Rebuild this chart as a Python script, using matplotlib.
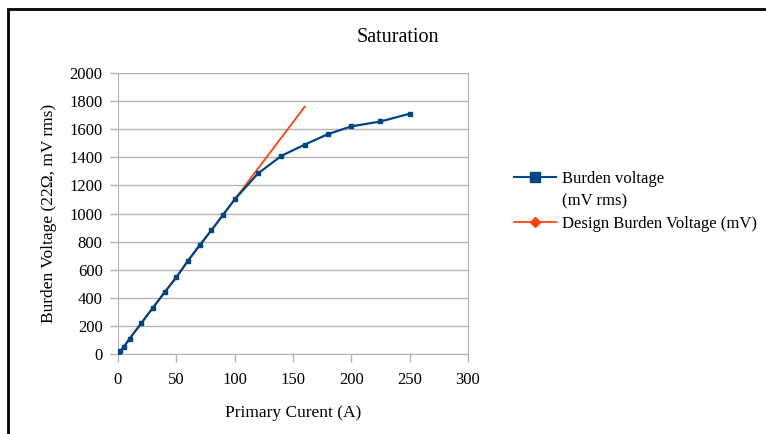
import matplotlib.pyplot as plt
from matplotlib.lines import Line2D
from matplotlib.patches import Rectangle

# measured burden voltage vs primary current
current = [0, 2, 5, 10, 20, 30, 40, 50, 60, 70, 80, 90, 100, 120, 140, 160, 180, 200, 225, 250]
burden_mv = [0, 20, 50, 110, 220, 330, 440, 545, 665, 775, 880, 990, 1100, 1285, 1410, 1490, 1565, 1620, 1655, 1710]

# design line (11 mV/A)
design_current = [0, 160]
design_mv = [0, 1760]

plt.rcParams['font.family'] = ['Liberation Serif', 'DejaVu Serif']

blue = '#004586'
red = '#ff420e'

fig = plt.figure(figsize=(7.66, 4.34), dpi=100)
W, H = 766, 434
ax = fig.add_axes([118 / W, 1 - 354 / H, 350 / W, 281 / H])

ax.plot(design_current, design_mv, color=red, linewidth=1.3, zorder=2)
ax.plot(current, burden_mv, color=blue, linewidth=1.6, marker='s', markersize=3.2, zorder=3)

ax.set_xlim(0, 300)
ax.set_ylim(0, 2000)
ax.set_xticks(range(0, 301, 50))
ax.set_yticks(range(0, 2001, 200))
ax.grid(axis='y', color='#b3b3b3', linewidth=1)
ax.set_axisbelow(True)
for s in ax.spines.values():
    s.set_color('#b3b3b3')
ax.spines['top'].set_visible(False)
ax.tick_params(colors='#b3b3b3', labelcolor='black', labelsize=12, length=6, width=1)
ax.tick_params(axis='x', pad=7)
ax.tick_params(axis='y', pad=5)

ax.set_xlabel('Primary Curent (A)', fontsize=12.5, labelpad=12)
ax.set_ylabel('Burden Voltage (22Ω, mV rms)', fontsize=12.5, labelpad=9)
fig.text(398 / W, 1 - 38 / H, 'Saturation', ha='center', va='center', fontsize=14.5)

# legend: second line of the first label sits on its own row, no handle
handles = [
    Line2D([], [], color=blue, marker='s', markersize=7, linewidth=1.5),
    Line2D([], [], linestyle='none'),
    Line2D([], [], color=red, marker='D', markersize=5, linewidth=1.3),
]
fig.legend(handles, ['Burden voltage', '(mV rms)', 'Design Burden Voltage (mV)'],
           loc='upper left', bbox_to_anchor=(514 / W, 1 - 171 / H),
           frameon=False, fontsize=12, handlelength=2.5, handletextpad=0.4,
           labelspacing=0.38, borderpad=0, borderaxespad=0)

# outer chart border
fig.patches.append(Rectangle((8 / W, -0.1), 1.2, 1 - 9 / H + 0.1, transform=fig.transFigure,
                             fill=False, edgecolor='black', linewidth=2))

fig.savefig('out.png', dpi=100)
